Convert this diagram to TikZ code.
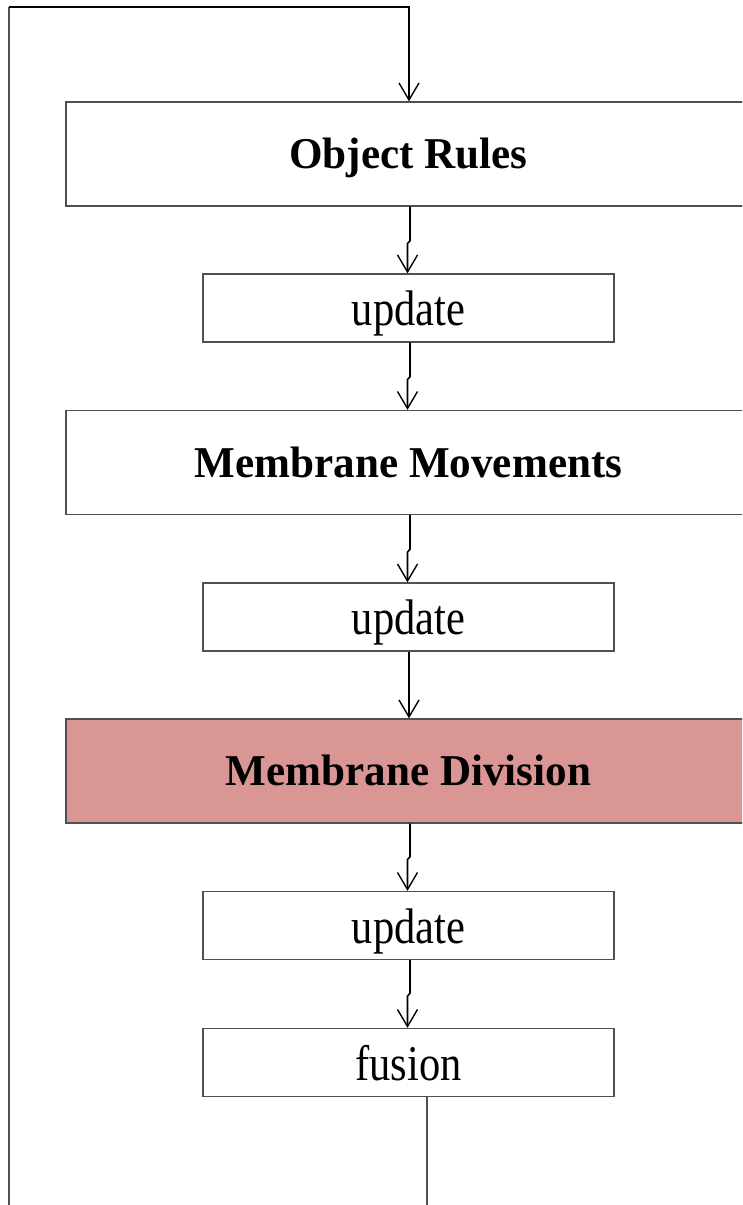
\documentclass[tikz,border=0pt]{standalone}
\usepackage{fontspec}
\setmainfont{Liberation Serif}
\usetikzlibrary{arrows.meta}
\definecolor{divfill}{HTML}{D99694}
\definecolor{boxline}{HTML}{505050}
\newcommand{\boldlbl}[1]{\scalebox{0.98}[1]{#1}}
\newcommand{\plainlbl}[1]{\scalebox{0.85}[1]{#1}}
\tikzset{
  stage/.style={draw=boxline, line width=1.3pt, minimum width=685pt, minimum height=104pt,
    inner sep=0pt, text height=29pt, text depth=0pt,
    font=\fontsize{44}{50}\selectfont\bfseries},
  smallbox/.style={draw=boxline, line width=1.3pt, minimum width=411pt, minimum height=68pt,
    inner sep=0pt, text height=35pt, text depth=0pt,
    font=\fontsize{50}{56}\selectfont},
  flow/.style={line width=1.6pt, -{Straight Barb[length=17pt,width=20pt,line width=1.4pt]}},
  loopline/.style={draw=boxline, line width=1.4pt}
}
\begin{document}
\begin{tikzpicture}[x=1pt,y=-1pt]
\useasboundingbox (0,0) rectangle (742,1205);
\clip (0,0) rectangle (742,1205);

\node[stage] (obj) at (408.5,154) {\boldlbl{Object Rules}};
\node[smallbox] (up1) at (408.5,308) {\plainlbl{update}};
\node[stage] (mov) at (408.5,462.5) {\boldlbl{Membrane Movements}};
\node[smallbox] (up2) at (408.5,617) {\plainlbl{update}};
\node[stage, fill=divfill] (div) at (408.5,771) {\boldlbl{Membrane Division}};
\node[smallbox] (up3) at (408.5,925.5) {\plainlbl{update}};
\node[smallbox] (fus) at (408.5,1062.5) {\plainlbl{fusion}};

\coordinate (bottom) at (427,1205);
\coordinate (cornerL) at (9,7);
\coordinate (cornerR) at (409,7);

% connectors with a small sideways jog
\draw[flow] ([xshift=1.5pt]obj.south) -- ++(0,34) -- ++(-2.5,3) -- ([xshift=-1pt]up1.north);
\draw[flow] ([xshift=1.5pt]up1.south) -- ++(0,34) -- ++(-2.5,3) -- ([xshift=-1pt]mov.north);
\draw[flow] ([xshift=1.5pt]mov.south) -- ++(0,34) -- ++(-2.5,3) -- ([xshift=-1pt]up2.north);
\draw[flow] ([xshift=0.5pt]up2.south) -- ([xshift=0.5pt]div.north);
\draw[flow] ([xshift=1.5pt]div.south) -- ++(0,33) -- ++(-2.5,3) -- ([xshift=-1pt]up3.north);
\draw[flow] ([xshift=1.5pt]up3.south) -- ++(0,33) -- ++(-2.5,3) -- ([xshift=-1pt]fus.north);

% return loop
\draw[loopline] ([xshift=18.5pt]fus.south) -- (bottom);
\draw[loopline] (9,1205) -- (cornerL);
\draw[flow] (cornerL) -- (cornerR) -- (obj.north -| cornerR);
\end{tikzpicture}
\end{document}
